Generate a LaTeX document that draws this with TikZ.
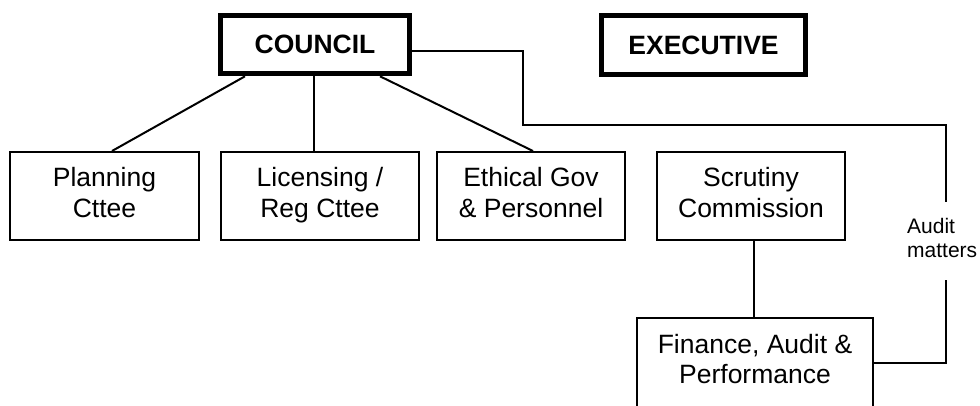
\documentclass[tikz,border=0pt]{standalone}
\usepackage{fontspec}
\setmainfont{Liberation Sans}
\begin{document}
\begin{tikzpicture}[x=1pt,y=-1pt,
  thinbox/.style={draw=black, line width=2pt, rectangle, inner sep=0pt, align=center,
    font=\fontsize{26.5}{30.5}\selectfont},
  thickbox/.style={draw=black, line width=5pt, rectangle, inner sep=0pt, align=center,
    font=\fontsize{26.5}{30.5}\selectfont\bfseries},
  conn/.style={draw=black, line width=2pt}]
\useasboundingbox (0,0) rectangle (980,405);
\node[thickbox, minimum width=188.4pt, minimum height=58pt] (council) at (315,44.8) {COUNCIL};
\node[thickbox, minimum width=204pt, minimum height=59pt] (exec) at (703.5,45) {EXECUTIVE};
\node[thinbox, minimum width=189pt, minimum height=88pt] (pl) at (104.5,196) {\strut Planning\\Cttee\strut};
\node[thinbox, minimum width=198pt, minimum height=88pt] (lic) at (320,196) {\strut Licensing /\\Reg Cttee\strut};
\node[thinbox, minimum width=188pt, minimum height=88pt] (eth) at (531,196) {\strut Ethical Gov\\\& Personnel\strut};
\node[thinbox, minimum width=188pt, minimum height=88pt] (scr) at (751,196) {\strut Scrutiny\\Commission\strut};
\node[thinbox, minimum width=236pt, minimum height=89pt] (fin) at (755,362.5) {\strut Finance, Audit \&\\Performance\strut};
\node[anchor=north west, inner sep=0pt, align=left, font=\fontsize{21}{24}\selectfont] (am) at (907,218) {Audit\\matters};
\coordinate (b1) at (523,125);
\coordinate (b2) at (946,125);
\coordinate (gtop) at (946,202);
\coordinate (gbot) at (946,280);
\coordinate (b3) at (946,363);
\draw[conn] ([xshift=-70pt]council.south) -- ([xshift=7.5pt]pl.north);
\draw[conn] ([xshift=-1pt]council.south) -- ([xshift=-1pt]council.south |- lic.north);
\draw[conn] ([xshift=65pt]council.south) -- ([xshift=2pt]eth.north);
\draw[conn] ([yshift=-6pt]council.east) -| (b1) -- (b2) -- (gtop);
\draw[conn] (gbot) -- (b3) -- (b3 -| fin.east);
\draw[conn] ([xshift=3pt]scr.south) -- ([xshift=3pt]scr.south |- fin.north);
\end{tikzpicture}
\end{document}
